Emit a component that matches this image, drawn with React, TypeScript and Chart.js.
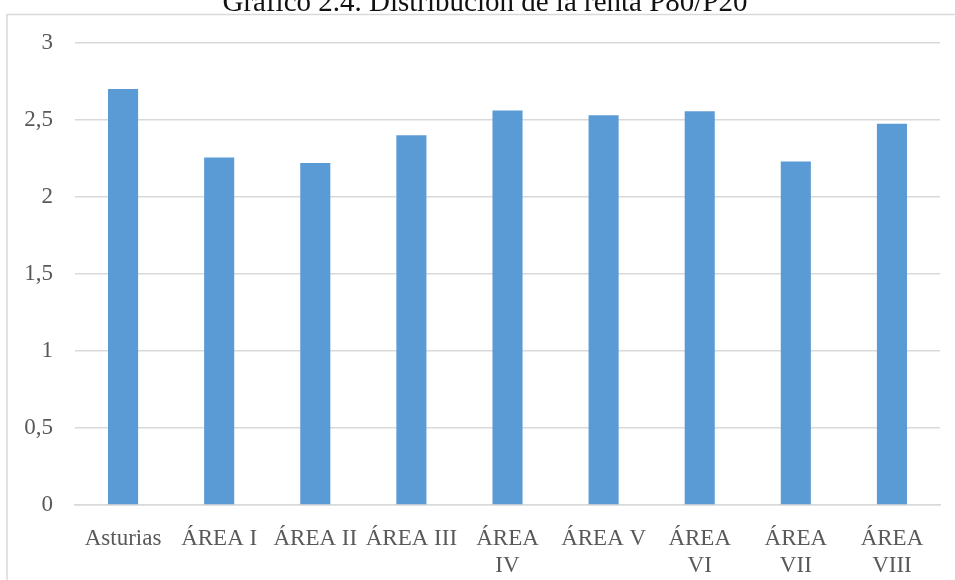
import React, { useEffect, useRef } from "react";
import { Chart, registerables } from "chart.js";

Chart.register(...registerables);

const TITLE = "Gráfico 2.4. Distribución de la renta P80/P20";
const CATEGORIES: (string | string[])[] = [
  "Asturias",
  "ÁREA I",
  "ÁREA II",
  "ÁREA III",
  ["ÁREA", "IV"],
  "ÁREA V",
  ["ÁREA", "VI"],
  ["ÁREA", "VII"],
  ["ÁREA", "VIII"],
];
const VALUES = [2.7, 2.255, 2.22, 2.4, 2.56, 2.53, 2.555, 2.23, 2.475];
const Y_TICKS = [0, 0.5, 1, 1.5, 2, 2.5, 3];
const Y_TICK_LABELS = ["0", "0,5", "1", "1,5", "2", "2,5", "3"];

const CANVAS_W = 971;
const CANVAS_H = 600;
const OFFSET_TOP = 20;

const framePlugin = {
  id: "frame",
  afterLayout(chart: any) {
    // centre the title over the whole framed box rather than over the chart only
    if (chart.titleBlock) {
      chart.titleBlock.left += 30;
    }
  },
  beforeDraw(chart: any) {
    const ctx = chart.ctx;
    ctx.save();
    ctx.strokeStyle = "#d9d9d9";
    ctx.lineWidth = 1.5;
    ctx.strokeRect(7, 14.5 + OFFSET_TOP, chart.width + 50, chart.height + 50);
    ctx.restore();
  },
};

export default function App() {
  const ref = useRef<HTMLCanvasElement | null>(null);
  useEffect(() => {
    if (!ref.current) return;
    const font = { family: "'Liberation Serif', 'Times New Roman', serif", size: 23 };
    const chart = new Chart(ref.current, {
      type: "bar",
      data: {
        labels: CATEGORIES as any,
        datasets: [
          {
            data: VALUES,
            backgroundColor: "#5b9bd5",
            borderWidth: 0,
            barPercentage: 0.313,
            categoryPercentage: 1,
          },
        ],
      },
      plugins: [framePlugin],
      options: {
        responsive: false,
        animation: false,
        devicePixelRatio: 1,
        layout: { padding: { left: 0, right: 31, top: 0, bottom: 0 } },
        plugins: {
          legend: { display: false },
          tooltip: { enabled: false },
          title: {
            display: true,
            text: TITLE,
            color: "#111",
            font: { family: "'Liberation Serif', 'Times New Roman', serif", size: 29, weight: "normal" as any },
            padding: { top: 6, bottom: 22 },
          },
        },
        scales: {
          x: {
            grid: { display: false },
            border: { display: true, color: "#d9d9d9", width: 1.5 },
            ticks: {
              color: "#595959",
              font,
              padding: 12,
              maxRotation: 0,
              autoSkip: false,
            },
            afterFit(scale: any) {
              scale.height = CANVAS_H - (505 + OFFSET_TOP);
            },
          },
          y: {
            min: 0,
            max: 3,
            grid: { color: "#d9d9d9", lineWidth: 1.5, drawTicks: false },
            border: { display: false },
            afterBuildTicks(scale: any) {
              scale.ticks = Y_TICKS.map((v) => ({ value: v }));
            },
            ticks: {
              color: "#595959",
              font,
              padding: 22,
              callback: (v: any) => {
                const i = Y_TICKS.indexOf(Number(v));
                return i >= 0 ? Y_TICK_LABELS[i] : "";
              },
            },
            afterFit(scale: any) {
              scale.width = 75;
            },
          },
        },
      },
    });
    return () => chart.destroy();
  }, []);

  return (
    <div
      style={{
        position: "fixed",
        left: 0,
        top: 0,
        width: 955,
        height: 580,
        overflow: "hidden",
        background: "#fff",
      }}
    >
      <div style={{ position: "absolute", left: 0, top: -OFFSET_TOP, width: CANVAS_W, height: CANVAS_H }}>
        <canvas ref={ref} width={CANVAS_W} height={CANVAS_H} style={{ width: CANVAS_W, height: CANVAS_H }} />
      </div>
    </div>
  );
}
